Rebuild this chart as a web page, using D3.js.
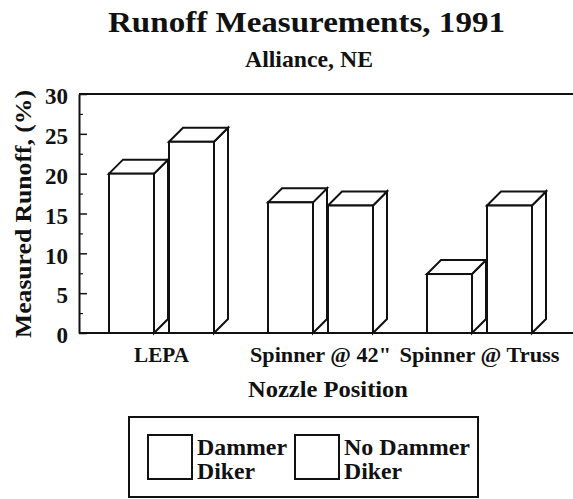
<!DOCTYPE html>
<html><head><meta charset="utf-8">
<script src="https://cdn.jsdelivr.net/npm/d3@7/dist/d3.min.js"></script>
<style>
html,body{margin:0;padding:0;background:#fff;}
</style></head>
<body>
<svg id="chart" width="573" height="499" font-family="'Liberation Serif', 'Times New Roman', Times, serif" font-weight="bold"></svg>
<script>
// ---- data ----
const categories = ["LEPA", "Spinner @ 42\"", "Spinner @ Truss"];
const series = ["Dammer Diker", "No Dammer Diker"];
const dammerDiker = [20, 16.4, 7.4];
const noDammerDiker = [24, 16, 16];
const yTicks = [0, 5, 10, 15, 20, 25, 30];
const yMinorTicks = [2.5, 7.5, 12.5, 17.5, 22.5, 27.5];
const legendLabels = [["Dammer", "Diker"], ["No Dammer", "Diker"]];

const title = "Runoff Measurements, 1991";
const subtitle = "Alliance, NE";
const xTitle = "Nozzle Position";
const yTitle = "Measured Runoff, (%)";

const FONT = "'Liberation Serif', 'Times New Roman', Times, serif";
const svg = d3.select("#chart");
const W = 573, H = 499;
const plotLeft = 79, plotTop = 94, plotBottom = 333;
const depth = 14;
const ink = "#111";

function label(sel) {
  return sel.style("font-family", FONT).style("font-weight", "bold").attr("fill", ink);
}

const x0 = d3.scaleBand().domain(categories).range([82, 559]).padding(0);
const x1 = d3.scaleBand().domain(series).range([-52.5, 52.5]).paddingInner(0.25).paddingOuter(0);
const y = d3.scaleLinear().domain([0, 30]).range([plotBottom, plotTop]);

// titles
label(svg.append("text")).attr("x", 306.5).attr("y", 32).attr("text-anchor", "middle")
  .attr("font-size", 29).attr("textLength", 397).attr("lengthAdjust", "spacingAndGlyphs").text(title);
label(svg.append("text")).attr("x", 309).attr("y", 67).attr("text-anchor", "middle")
  .attr("font-size", 23).attr("textLength", 128).attr("lengthAdjust", "spacingAndGlyphs").text(subtitle);

// frame lines
svg.append("line").attr("x1", plotLeft).attr("x2", W).attr("y1", plotTop).attr("y2", plotTop)
  .attr("stroke", ink).attr("stroke-width", 2);
svg.append("line").attr("x1", plotLeft).attr("x2", W).attr("y1", plotBottom).attr("y2", plotBottom)
  .attr("stroke", ink).attr("stroke-width", 2);

// y axis
const yAxis = svg.append("g").attr("transform", `translate(${plotLeft},0)`)
  .call(d3.axisLeft(y).tickValues(yTicks).tickSizeInner(-8).tickSizeOuter(0).tickPadding(11));
yAxis.attr("font-family", null).attr("font-size", null);
yAxis.select(".domain").attr("stroke", ink).attr("stroke-width", 2);
yAxis.selectAll(".tick line").attr("stroke", ink).attr("stroke-width", 1.5);
label(yAxis.selectAll(".tick text")).attr("font-size", 23).attr("dy", "0.42em");

const yMinor = svg.append("g").attr("transform", `translate(${plotLeft},0)`)
  .call(d3.axisLeft(y).tickValues(yMinorTicks).tickSizeInner(-4).tickSizeOuter(0).tickFormat(""));
yMinor.select(".domain").remove();
yMinor.selectAll(".tick line").attr("stroke", ink).attr("stroke-width", 1.2);

// y title
label(svg.append("text")).attr("transform", `translate(31,214) rotate(-90)`).attr("text-anchor", "middle")
  .attr("font-size", 24).attr("textLength", 248).attr("lengthAdjust", "spacingAndGlyphs").text(yTitle);

// bars (3D boxes)
const rows = [];
categories.forEach((c, i) => {
  rows.push({cat: c, s: series[0], v: dammerDiker[i]});
  rows.push({cat: c, s: series[1], v: noDammerDiker[i]});
});
const barG = svg.append("g");
rows.forEach(d => {
  const xl = x0(d.cat) + x0.bandwidth() / 2 + x1(d.s);
  const xr = xl + x1.bandwidth();
  const yt = y(d.v), yb = y(0);
  const g = barG.append("g").attr("fill", "#fff").attr("stroke", ink)
    .attr("stroke-width", 2).attr("stroke-linejoin", "miter");
  g.append("path").attr("d",
    `M${xr},${yb} L${xr + depth},${yb - depth} L${xr + depth},${yt - depth} L${xr},${yt} Z`);
  g.append("path").attr("d",
    `M${xl},${yt} L${xl + depth},${yt - depth} L${xr + depth},${yt - depth} L${xr},${yt} Z`);
  g.append("rect").attr("x", xl).attr("y", yt).attr("width", xr - xl).attr("height", yb - yt);
});

// x labels
const xLabelWidths = [55, 141, 160];
categories.forEach((c, i) => {
  label(svg.append("text")).attr("x", x0(c) + x0.bandwidth() / 2).attr("y", 362)
    .attr("text-anchor", "middle").attr("font-size", 20)
    .attr("textLength", xLabelWidths[i]).attr("lengthAdjust", "spacingAndGlyphs").text(c);
});
label(svg.append("text")).attr("x", 328).attr("y", 397).attr("text-anchor", "middle")
  .attr("font-size", 24).attr("textLength", 160).attr("lengthAdjust", "spacingAndGlyphs").text(xTitle);

// legend
svg.append("rect").attr("x", 129).attr("y", 417).attr("width", 349).attr("height", 80)
  .attr("fill", "#fff").attr("stroke", ink).attr("stroke-width", 2);
const legX = [148, 295];
const legTextW = [[90, 58], [126, 58]];
series.forEach((s, i) => {
  svg.append("rect").attr("x", legX[i]).attr("y", 435).attr("width", 44).attr("height", 44)
    .attr("fill", "#fff").attr("stroke", ink).attr("stroke-width", 2);
  legendLabels[i].forEach((t, j) => {
    label(svg.append("text")).attr("x", legX[i] + 49).attr("y", 455 + j * 24)
      .attr("font-size", 23).attr("textLength", legTextW[i][j]).attr("lengthAdjust", "spacingAndGlyphs").text(t);
  });
});
</script>
</body></html>
